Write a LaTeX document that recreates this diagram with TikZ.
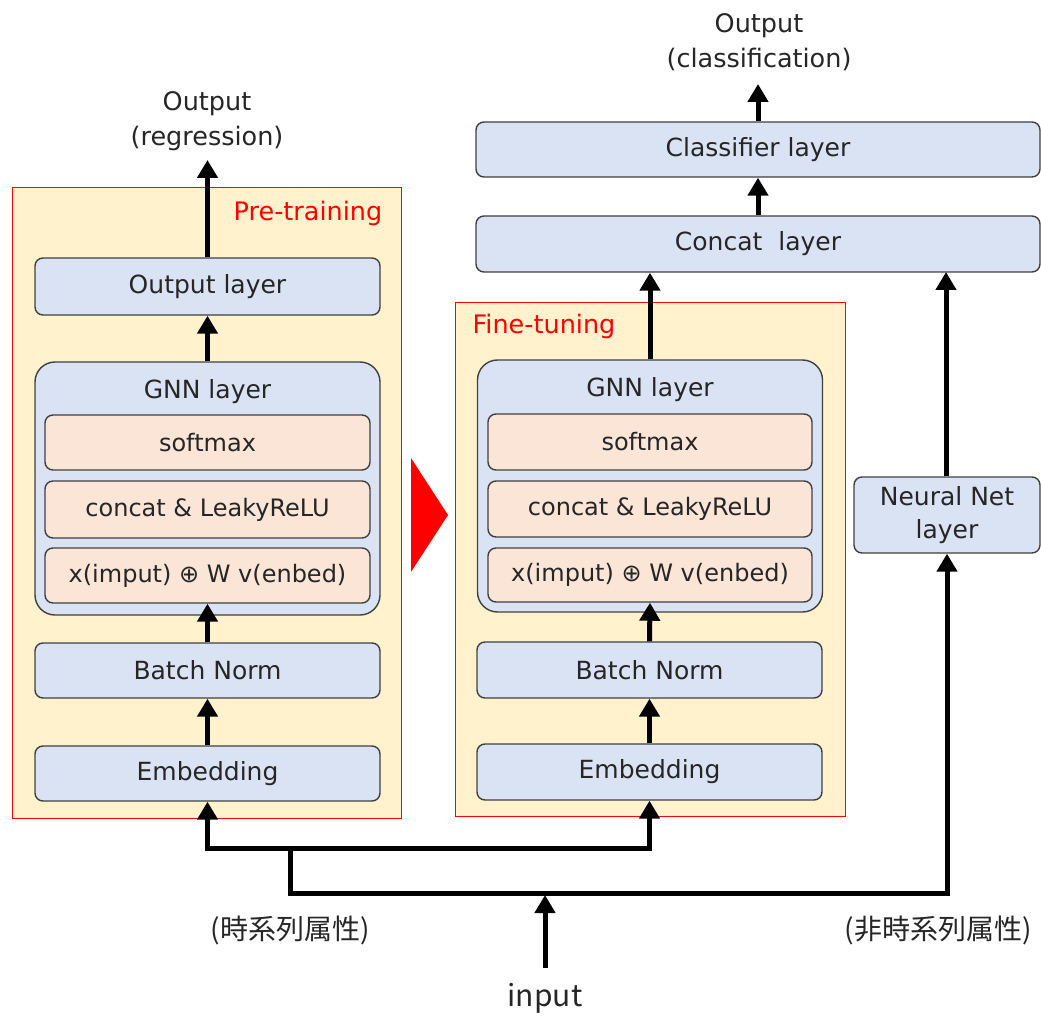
\documentclass[tikz,border=0pt]{standalone}
\usepackage{fontspec}
\setmainfont{DejaVu Sans}
\newfontfamily\cjk{Noto Sans CJK JP}
\usetikzlibrary{arrows.meta}
\definecolor{boxblue}{HTML}{DAE3F3}
\definecolor{peach}{HTML}{FBE5D6}
\definecolor{panelyellow}{HTML}{FFF2CC}
\definecolor{edgegray}{HTML}{404040}
\definecolor{txt}{HTML}{262626}
\begin{document}
\begin{tikzpicture}[x=1pt,y=-1pt,
  layer/.style={draw=edgegray, fill=boxblue, rounded corners=8pt, line width=1.4pt,
    inner sep=0pt, text=txt, font=\fontsize{25}{30}\selectfont},
  sublayer/.style={layer, fill=peach, font=\fontsize{24}{28}\selectfont},
  gnnbox/.style={layer, rounded corners=20pt},
  panel/.style={draw=red, fill=panelyellow, line width=1pt},
  paneltitle/.style={text=red, font=\fontsize{25.5}{30}\selectfont, inner sep=0pt},
  plain/.style={text=txt, font=\fontsize{25.5}{30}\selectfont, inner sep=0pt},
  jplabel/.style={text=txt, font=\cjk\fontsize{28}{33}\selectfont, inner sep=0pt},
  flow/.style={line width=5pt, -{Triangle[width=20pt,length=18pt]}},
  wire/.style={line width=5pt, line cap=rect}]
\useasboundingbox (0,0) rectangle (1041,1016);

% ---------- panels ----------
\draw[panel] (12,188) rectangle (401,818);
\draw[panel] (455,302) rectangle (845,816);
\node[paneltitle] (pretitle) at (308,213) {Pre-training};
\node[paneltitle] (finetitle) at (544,326) {Fine-tuning};

% ---------- pre-training stack ----------
\node[layer, minimum width=345pt, minimum height=57pt] (pout) at (207.5,286.5) {Output layer};
\node[gnnbox, minimum width=345pt, minimum height=253pt] (pgnn) at (207.5,488.5) {};
\node[plain, font=\fontsize{25}{30}\selectfont] (pgnnlbl) at (207.5,392) {GNN layer};
\node[sublayer, minimum width=325pt, minimum height=55pt] (psoft) at (207.5,442.5) {softmax};
\node[sublayer, minimum width=325pt, minimum height=57pt] (pcat) at (207.5,509.5) {concat \& LeakyReLU};
\node[sublayer, minimum width=325pt, minimum height=55pt] (pxw) at (207.5,575.5) {x(imput) ⊕ W v(enbed)};
\node[layer, minimum width=345pt, minimum height=55pt] (pbn) at (207.5,670.5) {Batch Norm};
\node[layer, minimum width=345pt, minimum height=55pt] (pemb) at (207.5,773.5) {Embedding};

\node[plain] (regtop) at (207,104) {Output};
\node[plain] (regbot) at (207,138) {(regression)};
\coordinate (regtip) at (207.5,160);

\draw[flow] (pout.north) -- (regtip);
\draw[flow] (pgnn.north) -- (pout.south);
\draw[flow] (pbn.north) -- (pxw.south);
\draw[flow] (pemb.north) -- (pbn.south);

% ---------- transfer marker ----------
\fill[red] (411,458) -- (448,515) -- (411,572) -- cycle;

% ---------- fine-tuning stack ----------
\node[gnnbox, minimum width=345pt, minimum height=252pt] (fgnn) at (650,486) {};
\node[plain, font=\fontsize{25}{30}\selectfont] (fgnnlbl) at (650,390) {GNN layer};
\node[sublayer, minimum width=324pt, minimum height=56pt] (fsoft) at (650,442) {softmax};
\node[sublayer, minimum width=324pt, minimum height=56pt] (fcat) at (650,509) {concat \& LeakyReLU};
\node[sublayer, minimum width=324pt, minimum height=54pt] (fxw) at (650,575) {x(imput) ⊕ W v(enbed)};
\node[layer, minimum width=345pt, minimum height=56pt] (fbn) at (649.5,670) {Batch Norm};
\node[layer, minimum width=345pt, minimum height=56pt] (femb) at (649.5,772) {Embedding};

\draw[flow] (fbn.north) -- (fxw.south);
\draw[flow] (femb.north) -- (fbn.south);

% ---------- classification head ----------
\node[layer, minimum width=564pt, minimum height=56pt] (concat) at (758,244) {Concat\ \ layer};
\node[layer, minimum width=564pt, minimum height=55pt] (cls) at (758,149.5) {Classifier layer};
\node[layer, minimum width=186pt, minimum height=76pt, align=center,
      font=\fontsize{25}{33}\selectfont] (nn) at (947,515) {Neural Net\\layer};

\node[plain] (clstop) at (759,26) {Output};
\node[plain] (clsbot) at (759,59) {(classification)};
\coordinate (clstip) at (758,84);

\draw[flow] (cls.north) -- (clstip);
\draw[flow] (concat.north) -- (cls.south);
\draw[flow] (fgnn.north) -- (fgnn.north |- concat.south);
\draw[flow] (nn.north -| 946,0) -- (946,272);

% ---------- input distribution ----------
\node[plain, font=\cjk\fontsize{30}{36}\selectfont] (inp) at (545,998) {input};
\node[jplabel] (tslbl) at (290,930) {(時系列属性)};
\node[jplabel] (ntslbl) at (938,930) {(非時系列属性)};

\coordinate (inbase) at (545,968);
\coordinate (injoin) at (545,895);
\coordinate (splitL) at (290,893);
\coordinate (barmid) at (290,848);

\draw[flow] (inbase) -- (injoin);
\draw[flow] (splitL) -| (nn.south);
\draw[wire] (splitL) -- (barmid);
\draw[flow] (barmid) -| (pemb.south);
\draw[flow] (barmid) -| (femb.south);
\end{tikzpicture}
\end{document}
